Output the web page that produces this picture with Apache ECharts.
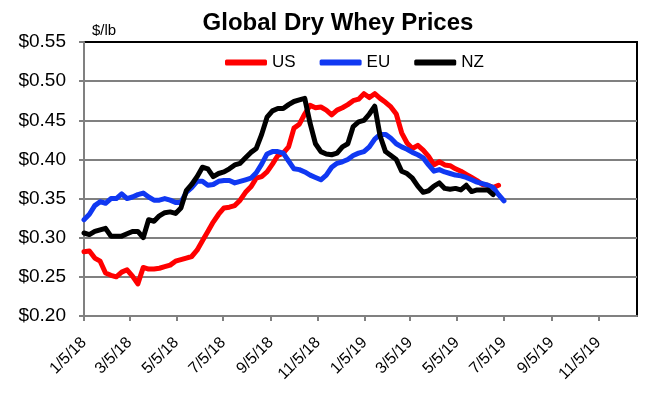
<!DOCTYPE html>
<html>
<head>
<meta charset="utf-8">
<script src="https://cdn.jsdelivr.net/npm/echarts@6/dist/echarts.min.js"></script>
<style>
  html, body { margin: 0; padding: 0; background: #fff; }
  #chart { width: 658px; height: 396px; }
</style>
</head>
<body>
<div id="chart"></div>
<script>
// weekly price dates
const weekDates = [
  "2018-01-05", "2018-01-12", "2018-01-19", "2018-01-26", "2018-02-02", "2018-02-09", "2018-02-16", "2018-02-23",
  "2018-03-02", "2018-03-09", "2018-03-16", "2018-03-23", "2018-03-30", "2018-04-06", "2018-04-13", "2018-04-20",
  "2018-04-27", "2018-05-04", "2018-05-11", "2018-05-18", "2018-05-25", "2018-06-01", "2018-06-08", "2018-06-15",
  "2018-06-22", "2018-06-29", "2018-07-06", "2018-07-13", "2018-07-20", "2018-07-27", "2018-08-03", "2018-08-10",
  "2018-08-17", "2018-08-24", "2018-08-31", "2018-09-07", "2018-09-14", "2018-09-21", "2018-09-28", "2018-10-05",
  "2018-10-12", "2018-10-19", "2018-10-26", "2018-11-02", "2018-11-09", "2018-11-16", "2018-11-23", "2018-11-30",
  "2018-12-07", "2018-12-14", "2018-12-21", "2018-12-28", "2019-01-04", "2019-01-11", "2019-01-18", "2019-01-25",
  "2019-02-01", "2019-02-08", "2019-02-15", "2019-02-22", "2019-03-01", "2019-03-08", "2019-03-15", "2019-03-22",
  "2019-03-29", "2019-04-05", "2019-04-12", "2019-04-19", "2019-04-26", "2019-05-03", "2019-05-10", "2019-05-17",
  "2019-05-24", "2019-05-31", "2019-06-07", "2019-06-14", "2019-06-21", "2019-06-28", "2019-07-05"
];

const usPrices = [
  0.282, 0.283, 0.274, 0.270, 0.255, 0.252, 0.250, 0.256, 0.259, 0.251,
  0.241, 0.262, 0.260, 0.260, 0.261, 0.263, 0.265, 0.270, 0.272, 0.274,
  0.276, 0.284, 0.296, 0.308, 0.320, 0.330, 0.338, 0.339, 0.341, 0.348,
  0.358, 0.365, 0.376, 0.378, 0.384, 0.394, 0.405, 0.408, 0.416, 0.440,
  0.445, 0.458, 0.469, 0.466, 0.467, 0.463, 0.457, 0.463, 0.466, 0.470,
  0.475, 0.477, 0.484, 0.479, 0.484, 0.478, 0.473, 0.467, 0.458, 0.434,
  0.421, 0.414, 0.418, 0.412, 0.404, 0.393, 0.397, 0.393, 0.392, 0.388,
  0.385, 0.381, 0.377, 0.373, 0.368, 0.367, 0.364, 0.367
];

const euPrices = [
  0.323, 0.330, 0.341, 0.346, 0.344, 0.350, 0.350, 0.356, 0.350, 0.352,
  0.355, 0.357, 0.352, 0.348, 0.348, 0.350, 0.348, 0.345, 0.345, 0.358,
  0.364, 0.372, 0.372, 0.367, 0.368, 0.372, 0.373, 0.373, 0.370, 0.372,
  0.374, 0.376, 0.383, 0.394, 0.407, 0.410, 0.410, 0.408, 0.398, 0.388,
  0.387, 0.384, 0.380, 0.377, 0.374, 0.380, 0.390, 0.395, 0.397, 0.400,
  0.405, 0.408, 0.410, 0.416, 0.426, 0.432, 0.432, 0.427, 0.420, 0.416,
  0.413, 0.409, 0.406, 0.402, 0.393, 0.385, 0.387, 0.384, 0.382, 0.380,
  0.379, 0.377, 0.374, 0.371, 0.369, 0.367, 0.364, 0.355, 0.347
];

const nzPrices = [
  0.306, 0.304, 0.308, 0.310, 0.312, 0.302, 0.302, 0.302, 0.305, 0.308,
  0.308, 0.300, 0.323, 0.321, 0.328, 0.332, 0.333, 0.331, 0.338, 0.360,
  0.368, 0.378, 0.390, 0.388, 0.378, 0.382, 0.384, 0.388, 0.393, 0.395,
  0.402, 0.409, 0.414, 0.432, 0.454, 0.462, 0.465, 0.465, 0.470, 0.474,
  0.476, 0.478, 0.446, 0.420, 0.410, 0.407, 0.406, 0.408, 0.416, 0.420,
  0.442, 0.448, 0.450, 0.458, 0.468, 0.430, 0.410, 0.405, 0.400, 0.385,
  0.382, 0.376, 0.366, 0.358, 0.360, 0.366, 0.370, 0.363, 0.362, 0.363,
  0.361, 0.367, 0.359, 0.361, 0.361, 0.361, 0.355
];

const xTickLabels = ["1/5/18", "3/5/18", "5/5/18", "7/5/18", "9/5/18", "11/5/18",
  "1/5/19", "3/5/19", "5/5/19", "7/5/19", "9/5/19", "11/5/19"];
const xEnd = "12/25/19";

function parseMDY(s) {
  const p = s.split("/");
  return Date.UTC(2000 + Number(p[2]), Number(p[0]) - 1, Number(p[1]));
}
function parseISO(s) {
  const p = s.split("-");
  return Date.UTC(Number(p[0]), Number(p[1]) - 1, Number(p[2]));
}
const tickTimes = xTickLabels.map(parseMDY);

function toPairs(vals) {
  return vals.map((v, i) => [parseISO(weekDates[i]), v]);
}

const font = "'Liberation Sans', Arial, sans-serif";
const chart = echarts.init(document.getElementById("chart"));

const option = {
  animation: false,
  textStyle: { fontFamily: font },
  title: [
    {
      text: "Global Dry Whey Prices",
      left: 333,
      textAlign: "center",
      top: 6,
      textStyle: { fontSize: 24, fontWeight: "bold", color: "#000", fontFamily: font }
    },
    {
      text: "$/lb",
      left: 87,
      top: 18,
      textStyle: { fontSize: 15, fontWeight: "normal", color: "#000", fontFamily: font }
    }
  ],
  legend: {
    left: 220,
    top: 49,
    itemWidth: 42,
    itemHeight: 6,
    itemGap: 24,
    icon: "roundRect",
    textStyle: { fontSize: 17, color: "#000", fontFamily: font },
    data: ["US", "EU", "NZ"]
  },
  grid: {
    left: 84,
    right: 21,
    top: 42,
    bottom: 80,
    show: true,
    borderColor: "#000",
    borderWidth: 2,
    backgroundColor: "transparent"
  },
  xAxis: {
    type: "value",
    min: tickTimes[0],
    max: parseMDY(xEnd),
    axisLine: { lineStyle: { color: "#808080", width: 2 } },
    axisTick: { show: true, length: 5, lineStyle: { color: "#808080", width: 2 }, customValues: tickTimes },
    axisLabel: {
      customValues: tickTimes,
      rotate: 45,
      margin: 24,
      fontSize: 16,
      color: "#000",
      fontFamily: font,
      formatter: function (val) {
        const i = tickTimes.indexOf(val);
        return i >= 0 ? xTickLabels[i] : "";
      }
    },
    splitLine: { show: false }
  },
  yAxis: {
    type: "value",
    min: 0.2,
    max: 0.55,
    interval: 0.05,
    axisLine: { show: true, lineStyle: { color: "#808080", width: 2 } },
    axisTick: { show: true, length: 5, lineStyle: { color: "#808080", width: 2 } },
    axisLabel: {
      fontSize: 19,
      color: "#000",
      margin: 18,
      fontFamily: font,
      formatter: function (v) { return "$" + v.toFixed(2); }
    },
    splitLine: { show: true, showMinLine: false, showMaxLine: false, lineStyle: { color: "#808080", width: 2 } }
  },
  series: [
    {
      name: "US",
      type: "line",
      data: toPairs(usPrices),
      showSymbol: false,
      color: "#ff0000",
      lineStyle: { width: 5, color: "#ff0000", cap: "round", join: "round" }
    },
    {
      name: "EU",
      type: "line",
      data: toPairs(euPrices),
      showSymbol: false,
      color: "#1038f2",
      lineStyle: { width: 5, color: "#1038f2", cap: "round", join: "round" }
    },
    {
      name: "NZ",
      type: "line",
      data: toPairs(nzPrices),
      showSymbol: false,
      color: "#000000",
      lineStyle: { width: 5, color: "#000000", cap: "round", join: "round" }
    }
  ]
};

chart.setOption(option);
</script>
</body>
</html>
